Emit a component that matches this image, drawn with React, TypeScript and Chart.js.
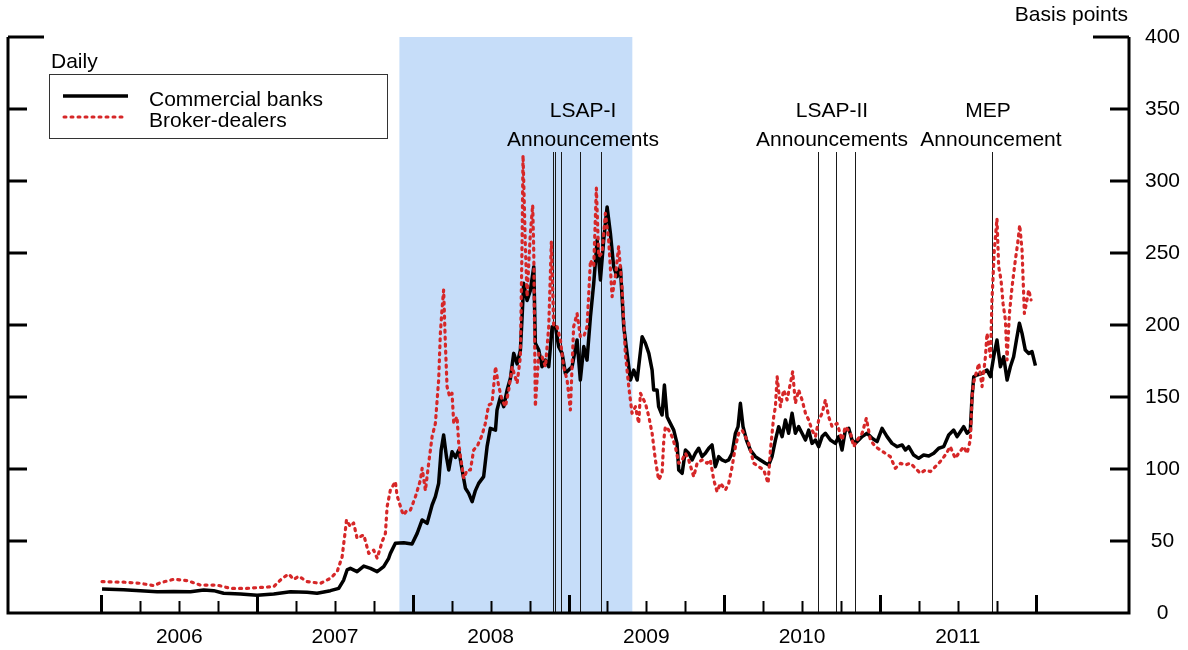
import React, { useEffect, useRef } from 'react';
import { Chart, registerables } from 'chart.js';

Chart.register(...registerables);

const FONT = '"Liberation Sans", Arial, Helvetica, sans-serif';

const yearLabels = ['2006', '2007', '2008', '2009', '2010', '2011'];
const yTickValues = [0, 50, 100, 150, 200, 250, 300, 350, 400];
const recession = [2007.914, 2009.41];
const lsap1Dates = [2008.899, 2008.913, 2008.954, 2009.074, 2009.208];
const lsap2Dates = [2010.605, 2010.721, 2010.838];
const mepDates = [2011.721];

const bankDates = [
  2006.004, 2006.143, 2006.25, 2006.358, 2006.464, 2006.572, 2006.657, 2006.721, 2006.785, 2006.893,
  2007.0, 2007.107, 2007.214, 2007.321, 2007.385, 2007.471, 2007.524, 2007.556, 2007.578, 2007.599,
  2007.642, 2007.685, 2007.728, 2007.771, 2007.813, 2007.845, 2007.856, 2007.888, 2007.942, 2007.995,
  2008.028, 2008.06, 2008.092, 2008.124, 2008.145, 2008.166, 2008.182, 2008.198, 2008.216, 2008.231,
  2008.252, 2008.274, 2008.295, 2008.317, 2008.338, 2008.359, 2008.381, 2008.402, 2008.423, 2008.455,
  2008.477, 2008.498, 2008.531, 2008.541, 2008.563, 2008.584, 2008.606, 2008.627, 2008.648, 2008.67,
  2008.691, 2008.702, 2008.712, 2008.734, 2008.755, 2008.777, 2008.787, 2008.809, 2008.83, 2008.852,
  2008.873, 2008.895, 2008.916, 2008.937, 2008.959, 2008.98, 2009.001, 2009.023, 2009.055, 2009.076,
  2009.098, 2009.119, 2009.141, 2009.162, 2009.184, 2009.205, 2009.226, 2009.248, 2009.269, 2009.29,
  2009.312, 2009.333, 2009.355, 2009.376, 2009.398, 2009.419, 2009.441, 2009.473, 2009.494, 2009.516,
  2009.537, 2009.547, 2009.569, 2009.579, 2009.601, 2009.616, 2009.633, 2009.654, 2009.676, 2009.697,
  2009.708, 2009.73, 2009.751, 2009.772, 2009.794, 2009.815, 2009.836, 2009.858, 2009.879, 2009.901,
  2009.922, 2009.943, 2009.965, 2009.986, 2010.008, 2010.029, 2010.051, 2010.072, 2010.089, 2010.104,
  2010.121, 2010.143, 2010.168, 2010.2, 2010.232, 2010.265, 2010.286, 2010.307, 2010.329, 2010.35,
  2010.372, 2010.393, 2010.414, 2010.436, 2010.457, 2010.478, 2010.5, 2010.522, 2010.543, 2010.564,
  2010.586, 2010.607, 2010.629, 2010.65, 2010.682, 2010.714, 2010.736, 2010.757, 2010.778, 2010.8,
  2010.821, 2010.843, 2010.864, 2010.886, 2010.918, 2010.95, 2010.982, 2011.014, 2011.046, 2011.078,
  2011.111, 2011.143, 2011.164, 2011.185, 2011.217, 2011.249, 2011.281, 2011.314, 2011.346, 2011.378,
  2011.41, 2011.442, 2011.474, 2011.496, 2011.517, 2011.538, 2011.56, 2011.581, 2011.592, 2011.603,
  2011.624, 2011.656, 2011.688, 2011.71, 2011.731, 2011.752, 2011.774, 2011.795, 2011.817, 2011.838,
  2011.859, 2011.877, 2011.896, 2011.913, 2011.934, 2011.956, 2011.977, 2011.999,
];
const bankValues = [
  16.7, 16.2, 15.5, 14.8, 15.0, 14.8, 16.0, 15.5, 13.7, 13.2,
  12.3, 13.2, 14.8, 14.4, 13.7, 15.5, 17.1, 22.9, 29.9, 31.0,
  28.7, 32.6, 31.0, 28.7, 32.2, 38.0, 41.4, 48.4, 48.8, 47.9,
  55.3, 64.6, 62.3, 75.0, 80.8, 90.0, 113.0, 123.6, 108.6, 99.3,
  112.0, 108.0, 113.0, 99.3, 86.6, 83.1, 77.3, 85.0, 90.0, 94.7,
  115.5, 128.2, 127.0, 141.0, 150.2, 143.3, 154.9, 163.0, 180.3, 173.0,
  182.6, 205.8, 229.0, 217.0, 224.0, 240.5, 187.3, 182.6, 171.0, 175.6,
  171.0, 198.8, 198.8, 185.0, 180.3, 166.4, 168.7, 171.0, 189.6, 161.8,
  185.0, 175.6, 205.8, 229.0, 259.0, 231.3, 259.0, 282.0, 263.7, 240.5,
  233.6, 240.5, 198.8, 180.3, 161.8, 168.7, 161.8, 191.9, 187.3, 180.3,
  168.7, 154.9, 154.9, 143.3, 137.5, 158.3, 136.3, 131.7, 127.0, 117.8,
  99.3, 97.0, 113.2, 110.9, 106.3, 110.9, 114.4, 108.6, 110.9, 114.4,
  116.7, 101.6, 108.6, 106.3, 105.2, 106.3, 110.9, 124.8, 129.4, 145.6,
  129.4, 120.1, 113.2, 108.6, 106.3, 104.0, 102.8, 108.6, 120.1, 129.4,
  122.5, 134.0, 124.8, 138.7, 124.8, 129.4, 124.8, 120.1, 127.0, 117.8,
  120.1, 115.5, 122.5, 124.8, 120.1, 117.8, 122.5, 113.2, 127.0, 128.2,
  120.1, 117.8, 120.1, 122.5, 124.8, 121.3, 119.0, 128.2, 122.5, 117.8,
  115.5, 116.7, 113.2, 115.5, 109.7, 107.4, 109.7, 109.0, 110.9, 114.4,
  115.5, 123.6, 127.0, 122.5, 125.9, 129.4, 124.8, 127.0, 150.2, 164.1,
  165.3, 166.4, 168.7, 164.1, 178.0, 189.6, 171.0, 178.0, 161.8, 171.0,
  178.0, 189.6, 201.2, 194.2, 182.6, 180.3, 181.5, 171.8,
];

const brokerDates = [
  2006.004, 2006.143, 2006.25, 2006.336, 2006.379, 2006.464, 2006.55, 2006.636, 2006.743, 2006.829,
  2006.936, 2007.0, 2007.107, 2007.161, 2007.203, 2007.235, 2007.267, 2007.321, 2007.407, 2007.471,
  2007.514, 2007.546, 2007.567, 2007.574, 2007.599, 2007.62, 2007.642, 2007.685, 2007.717, 2007.749,
  2007.771, 2007.803, 2007.824, 2007.835, 2007.856, 2007.888, 2007.899, 2007.931, 2007.942, 2007.963,
  2007.985, 2008.017, 2008.049, 2008.06, 2008.081, 2008.102, 2008.124, 2008.145, 2008.166, 2008.177,
  2008.188, 2008.198, 2008.209, 2008.22, 2008.237, 2008.252, 2008.263, 2008.284, 2008.295, 2008.306,
  2008.327, 2008.349, 2008.37, 2008.391, 2008.417, 2008.445, 2008.466, 2008.487, 2008.509, 2008.531,
  2008.552, 2008.573, 2008.595, 2008.616, 2008.638, 2008.67, 2008.691, 2008.702, 2008.708, 2008.723,
  2008.734, 2008.755, 2008.77, 2008.777, 2008.787, 2008.809, 2008.83, 2008.852, 2008.873, 2008.89,
  2008.905, 2008.927, 2008.948, 2008.969, 2008.991, 2009.012, 2009.033, 2009.055, 2009.076, 2009.098,
  2009.119, 2009.141, 2009.162, 2009.179, 2009.194, 2009.216, 2009.237, 2009.258, 2009.28, 2009.301,
  2009.322, 2009.344, 2009.365, 2009.387, 2009.408, 2009.43, 2009.451, 2009.462, 2009.494, 2009.516,
  2009.537, 2009.558, 2009.579, 2009.601, 2009.612, 2009.622, 2009.644, 2009.665, 2009.686, 2009.708,
  2009.73, 2009.751, 2009.772, 2009.804, 2009.826, 2009.858, 2009.89, 2009.911, 2009.933, 2009.954,
  2009.976, 2010.008, 2010.029, 2010.051, 2010.072, 2010.093, 2010.115, 2010.136, 2010.157, 2010.19,
  2010.222, 2010.254, 2010.282, 2010.297, 2010.318, 2010.329, 2010.34, 2010.361, 2010.382, 2010.404,
  2010.425, 2010.44, 2010.457, 2010.478, 2010.5, 2010.522, 2010.543, 2010.564, 2010.586, 2010.607,
  2010.629, 2010.65, 2010.671, 2010.693, 2010.725, 2010.757, 2010.778, 2010.811, 2010.832, 2010.854,
  2010.886, 2010.913, 2010.939, 2010.971, 2011.003, 2011.035, 2011.067, 2011.099, 2011.132, 2011.164,
  2011.196, 2011.228, 2011.26, 2011.292, 2011.324, 2011.356, 2011.388, 2011.42, 2011.452, 2011.484,
  2011.506, 2011.538, 2011.56, 2011.581, 2011.592, 2011.603, 2011.624, 2011.635, 2011.656, 2011.678,
  2011.688, 2011.71, 2011.72, 2011.735, 2011.752, 2011.763, 2011.778, 2011.791, 2011.806, 2011.817,
  2011.832, 2011.849, 2011.87, 2011.885, 2011.898, 2011.913, 2011.928, 2011.941, 2011.956, 2011.971,
];
const brokerValues = [
  21.8, 21.4, 20.6, 19.0, 21.0, 23.4, 22.5, 19.4, 19.4, 17.1,
  17.1, 17.6, 18.3, 24.1, 27.0, 23.4, 25.5, 21.8, 20.6, 24.1,
  28.7, 39.0, 57.6, 64.6, 60.0, 62.5, 51.9, 54.2, 41.4, 43.7,
  38.0, 49.5, 55.3, 73.8, 85.4, 91.2, 81.5, 70.4, 68.0, 71.5,
  71.5, 80.8, 92.4, 100.5, 85.0, 104.0, 122.5, 131.7, 161.8, 194.2,
  211.6, 224.3, 187.3, 157.2, 150.2, 152.6, 131.7, 136.3, 117.8, 108.6,
  93.5, 99.3, 99.3, 113.2, 116.6, 123.6, 131.7, 144.4, 145.6, 171.0,
  157.2, 148.0, 143.3, 154.9, 171.0, 159.5, 178.0, 259.0, 318.0, 254.6,
  219.7, 263.7, 283.3, 250.0, 143.3, 180.3, 178.0, 171.0, 198.8, 258.0,
  198.8, 198.8, 189.6, 171.0, 161.8, 141.0, 198.8, 208.0, 192.0, 192.0,
  198.8, 245.0, 240.5, 295.0, 247.5, 250.0, 277.5, 259.0, 219.7, 233.6,
  254.4, 226.0, 180.3, 157.2, 138.7, 143.3, 131.7, 152.6, 145.6, 136.3,
  124.8, 106.3, 92.4, 97.0, 120.1, 129.4, 127.0, 122.5, 115.5, 104.0,
  106.3, 110.9, 106.3, 94.7, 104.0, 106.3, 104.0, 106.3, 92.4, 84.3,
  90.1, 85.4, 90.1, 101.6, 115.5, 124.8, 127.0, 122.5, 117.8, 104.0,
  101.6, 99.3, 90.1, 113.2, 136.3, 143.3, 164.1, 143.3, 154.9, 148.0,
  159.5, 167.6, 145.6, 154.9, 148.0, 138.7, 134.0, 127.0, 122.5, 134.0,
  138.7, 148.0, 136.3, 129.4, 131.7, 120.1, 129.4, 124.8, 115.5, 120.1,
  124.8, 135.2, 120.1, 115.5, 113.2, 110.9, 108.6, 100.5, 103.9, 102.8,
  104.0, 100.5, 97.0, 99.3, 98.2, 101.6, 105.2, 109.7, 115.5, 107.4,
  110.9, 115.5, 110.9, 120.1, 150.2, 160.6, 168.7, 173.4, 157.2, 178.0,
  194.2, 178.0, 217.4, 252.0, 274.0, 240.5, 231.3, 215.0, 203.5, 175.7,
  208.1, 226.6, 245.1, 256.7, 269.4, 252.0, 208.1, 215.0, 224.3, 217.4,
];

const BLACK = '#000000';
const RED = 'rgb(214,39,40)';
const SHADE = '#C6DDF9';

const decorPlugin = {
  id: 'decor',
  beforeDatasetsDraw(chart: any) {
    const { ctx, chartArea: a, scales } = chart;
    const x = scales.x;
    ctx.save();
    const x0 = x.getPixelForValue(recession[0]);
    const x1 = x.getPixelForValue(recession[1]);
    ctx.fillStyle = SHADE;
    ctx.fillRect(x0, a.top, x1 - x0, a.bottom - a.top);
    ctx.strokeStyle = '#1a1a1a';
    ctx.lineWidth = 1;
    for (const d of [...lsap1Dates, ...lsap2Dates, ...mepDates]) {
      const px = Math.round(x.getPixelForValue(d)) + 0.5;
      ctx.beginPath();
      ctx.moveTo(px, 152);
      ctx.lineTo(px, a.bottom);
      ctx.stroke();
    }
    ctx.restore();
  },
  afterDraw(chart: any) {
    const { ctx, chartArea: a, scales } = chart;
    const x = scales.x;
    const y = scales.y;
    ctx.save();
    ctx.strokeStyle = BLACK;
    ctx.lineCap = 'butt';
    ctx.lineWidth = 3;
    ctx.beginPath();
    ctx.moveTo(a.left, a.top);
    ctx.lineTo(a.left, a.bottom);
    ctx.moveTo(a.right, a.top);
    ctx.lineTo(a.right, a.bottom);
    ctx.moveTo(a.left - 1.5, a.bottom);
    ctx.lineTo(a.right + 1.5, a.bottom);
    ctx.stroke();
    for (const v of yTickValues) {
      if (v === 0) continue;
      const py = y.getPixelForValue(v);
      const len = v === 400 ? 36 : 19;
      ctx.lineWidth = 3;
      ctx.beginPath();
      ctx.moveTo(a.left, py);
      ctx.lineTo(a.left + len, py);
      ctx.moveTo(a.right, py);
      ctx.lineTo(a.right - len, py);
      ctx.stroke();
    }
    const firstYear = Number(yearLabels[0]);
    const lastYear = Number(yearLabels[yearLabels.length - 1]) + 1;
    for (let q = 0; q <= (lastYear - firstYear) * 4; q++) {
      const v = firstYear + q / 4;
      const px = Math.round(x.getPixelForValue(v)) + 0.5;
      const major = q % 4 === 0;
      ctx.lineWidth = major ? 3 : 2;
      ctx.beginPath();
      ctx.moveTo(px, a.bottom);
      ctx.lineTo(px, a.bottom - (major ? 18 : 12));
      ctx.stroke();
    }

    ctx.fillStyle = BLACK;
    ctx.font = `21px ${FONT}`;
    ctx.textBaseline = 'alphabetic';
    ctx.textAlign = 'right';
    ctx.fillText('Basis points', 1128, 21);

    ctx.textAlign = 'center';
    ctx.fillText('LSAP-I', 583, 117);
    ctx.fillText('Announcements', 583, 146);
    ctx.fillText('LSAP-II', 832, 117);
    ctx.fillText('Announcements', 832, 146);
    ctx.fillText('MEP', 988, 117);
    ctx.fillText('Announcement', 991, 146);

    const ds = chart.data.datasets;
    ctx.textAlign = 'left';
    ctx.fillText('Daily', 51, 68);
    ctx.fillStyle = '#ffffff';
    ctx.fillRect(49.5, 74.5, 338, 64);
    ctx.strokeStyle = '#333333';
    ctx.lineWidth = 1;
    ctx.strokeRect(49.5, 74.5, 338, 64);
    ctx.fillStyle = BLACK;
    ctx.fillText(ds[1].label, 149, 106);
    ctx.fillText(ds[0].label, 149, 127);
    ctx.strokeStyle = BLACK;
    ctx.lineWidth = 3.5;
    ctx.beginPath();
    ctx.moveTo(63, 96);
    ctx.lineTo(128, 96);
    ctx.stroke();
    ctx.strokeStyle = RED;
    ctx.lineWidth = 3;
    ctx.lineCap = 'round';
    ctx.setLineDash([2, 5]);
    ctx.beginPath();
    ctx.moveTo(64, 117);
    ctx.lineTo(125, 117);
    ctx.stroke();
    ctx.setLineDash([]);
    ctx.restore();
  },
};

export default function App() {
  const ref = useRef<HTMLCanvasElement | null>(null);

  useEffect(() => {
    if (!ref.current) return;
    const chart = new Chart(ref.current, {
      type: 'line',
      data: {
        datasets: [
          {
            label: 'Broker-dealers',
            data: brokerDates.map((d, i) => ({ x: d, y: brokerValues[i] })),
            borderColor: RED,
            borderWidth: 3.2,
            borderDash: [2, 5],
            borderCapStyle: 'round',
            borderJoinStyle: 'round',
            pointRadius: 0,
            tension: 0,
            fill: false,
            order: 0,
          },
          {
            label: 'Commercial banks',
            data: bankDates.map((d, i) => ({ x: d, y: bankValues[i] })),
            borderColor: BLACK,
            borderWidth: 3.5,
            borderJoinStyle: 'round',
            pointRadius: 0,
            tension: 0,
            fill: false,
            order: 1,
          },
        ],
      },
      options: {
        responsive: false,
        animation: false,
        devicePixelRatio: 1,
        layout: { padding: { left: 8, top: 37, right: 0, bottom: 0 } },
        plugins: { legend: { display: false }, tooltip: { enabled: false }, title: { display: false } },
        scales: {
          x: {
            type: 'linear',
            position: 'bottom',
            min: 2005.4,
            max: 2012.6,
            grid: { display: false, drawTicks: false },
            border: { display: false },
            afterBuildTicks: (scale: any) => {
              scale.ticks = yearLabels.map((l) => ({ value: Number(l) + 0.5 }));
            },
            afterFit: (scale: any) => {
              scale.height = 37;
            },
            ticks: {
              autoSkip: false,
              maxRotation: 0,
              padding: 12,
              color: BLACK,
              font: { family: FONT, size: 21 },
              callback: (_v: any, i: number) => yearLabels[i],
            },
          },
          y: {
            type: 'linear',
            position: 'right',
            min: 0,
            max: 400,
            grid: { display: false, drawTicks: false },
            border: { display: false },
            afterBuildTicks: (scale: any) => {
              scale.ticks = yTickValues.map((v) => ({ value: v }));
            },
            afterFit: (scale: any) => {
              scale.width = 59;
            },
            ticks: {
              padding: 16,
              crossAlign: 'center',
              color: BLACK,
              font: { family: FONT, size: 21 },
              callback: (v: any) => String(v),
            },
          },
        },
      },
      plugins: [decorPlugin],
    });
    return () => chart.destroy();
  }, []);

  return (
    <div style={{ position: 'absolute', left: 0, top: 0, width: 1188, height: 650, background: '#fff' }}>
      <canvas ref={ref} width={1188} height={650} />
    </div>
  );
}
